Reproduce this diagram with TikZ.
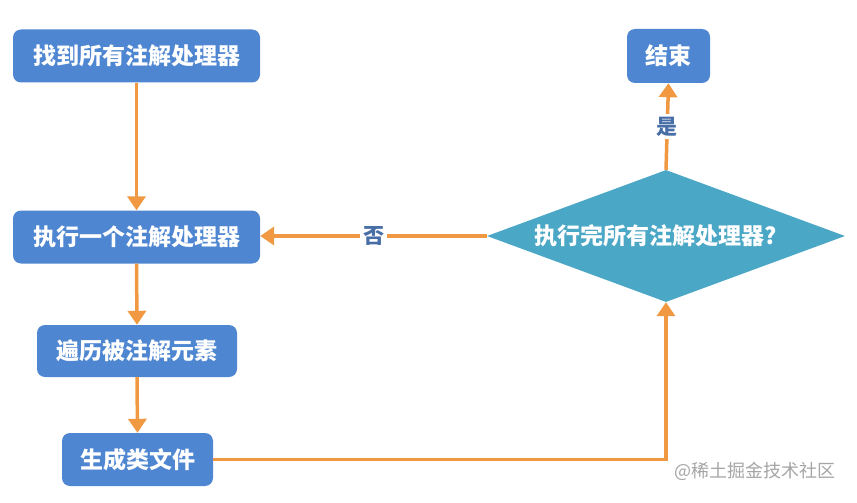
\documentclass[tikz,border=0pt]{standalone}
\usepackage{fontspec}
\setmainfont{Noto Sans CJK SC}
\usetikzlibrary{shapes.geometric,arrows.meta}
\definecolor{boxblue}{RGB}{78,134,209}
\definecolor{dteal}{RGB}{75,167,198}
\definecolor{arrorange}{RGB}{240,152,66}
\definecolor{lblblue}{RGB}{72,110,168}
\definecolor{wmgray}{RGB}{165,165,165}
\begin{document}
\begin{tikzpicture}[x=1pt,y=-1pt,
  procbox/.style={rectangle, rounded corners=8pt, fill=boxblue, text=white,
    font=\bfseries\fontsize{23}{26}\selectfont, inner sep=0pt},
  decbox/.style={diamond, fill=dteal, text=white, aspect=2.71,
    font=\bfseries\fontsize{23}{26}\selectfont, inner sep=0pt,
    minimum width=358pt, minimum height=132pt},
  flow/.style={draw=arrorange, line width=3.5pt,
    -{Triangle[width=18pt,length=14pt]}},
  lbl/.style={fill=white, text=lblblue, font=\bfseries\fontsize{21}{24}\selectfont, inner sep=3pt},
  wm/.style={text=wmgray, font=\fontsize{18}{21}\selectfont}
]
\useasboundingbox (0,0) rectangle (857,503);
\node[procbox, minimum width=247pt, minimum height=53pt] (b1) at (136.5,56) {找到所有注解处理器};
\node[procbox, minimum width=247pt, minimum height=53pt] (b2) at (136.5,237) {执行一个注解处理器};
\node[procbox, minimum width=200pt, minimum height=52pt] (b3) at (137,351) {遍历被注解元素};
\node[procbox, minimum width=151pt, minimum height=53pt] (b4) at (137.5,459.5) {生成类文件};
\node[procbox, minimum width=83pt, minimum height=54pt] (e) at (668.5,56) {结束};
\node[decbox] (d) at (666,236) {\hspace*{-20pt}执行完所有注解处理器?};
\coordinate (c) at (b4.east -| d.south);
\draw[flow] (b1.south) -- (b2.north);
\draw[flow] (b2.south) -- (b3.north);
\draw[flow] (b3.south) -- (b4.north);
\draw[flow] (b4.east) -- (c) -- (d.south);
\draw[flow] (d.west) -- node[lbl] (no) {否} (b2.east |- d.west);
\draw[flow] (d.north) -- node[lbl] (yes) {是} (e.south);
\node[wm] (w) at (755,471) {@稀土掘金技术社区};
\end{tikzpicture}
\end{document}
